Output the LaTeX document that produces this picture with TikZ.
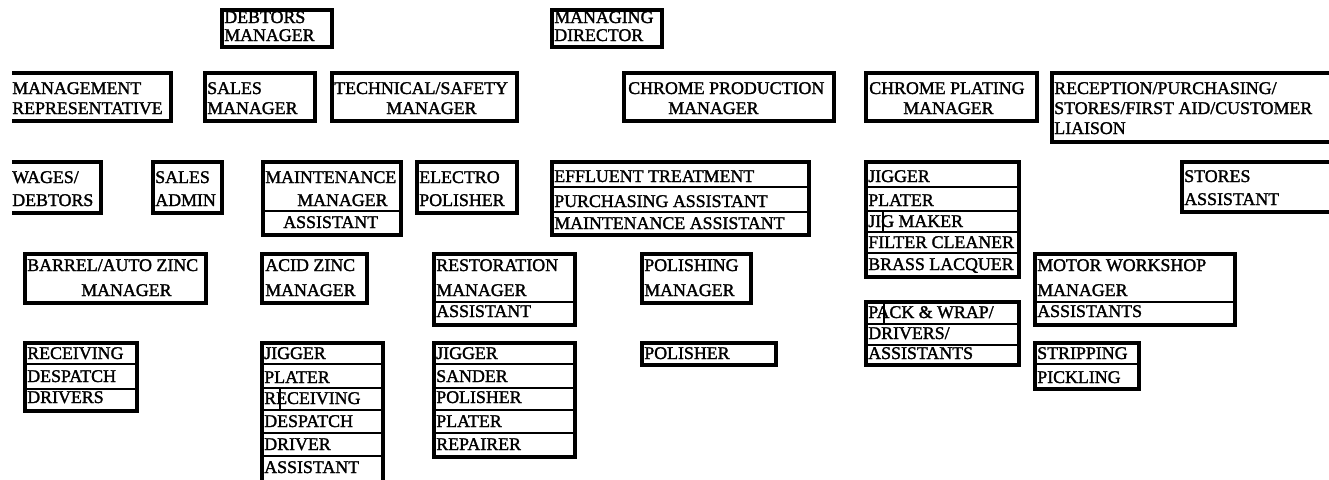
\documentclass[tikz,border=0pt]{standalone}
\usepackage{fontspec}
\setmainfont{Liberation Serif}[RawFeature={embolden=1.6}]
\begin{document}
\begin{tikzpicture}[x=0.75pt,y=-0.75pt,
  frame/.style={line width=2.3pt, line join=miter},
  rule/.style={line width=2.1pt},
  lbl/.style={anchor=base west, inner sep=0pt, font=\fontsize{13.4}{15}\selectfont, text=black}]
\useasboundingbox (0,0) rectangle (1329,479);
\clip (0,0) rectangle (1329,479);

% ---- top level ----
\draw[frame] (222,10) rectangle (332,47);
\node[lbl] (debtA) at (224,23) {DEBTORS};
\node[lbl] (debtB) at (224,41) {MANAGER};

\draw[frame] (552,10) rectangle (662,47);
\node[lbl] (mdA) at (554,23) {MANAGING};
\node[lbl] (mdB) at (554,41) {DIRECTOR};

% ---- managers ----
\draw[frame] (12,73) -- (171,73) -- (171,121) -- (12,121);
\node[lbl] (mrA) at (12,94) {MANAGEMENT};
\node[lbl] (mrB) at (12,114) {REPRESENTATIVE};

\draw[frame] (205,73) rectangle (315,121);
\node[lbl] (smA) at (207,94) {SALES};
\node[lbl] (smB) at (207,114) {MANAGER};

\draw[frame] (332,73) rectangle (517,121);
\node[lbl] (tsA) at (334,94) {TECHNICAL/SAFETY};
\node[lbl] (tsB) at (386,114) {MANAGER};

\draw[frame] (624,73) rectangle (834,121);
\node[lbl] (cpA) at (628,94) {CHROME PRODUCTION};
\node[lbl] (cpB) at (668,114) {MANAGER};

\draw[frame] (866,73) rectangle (1037,121);
\node[lbl] (clA) at (869,94) {CHROME PLATING};
\node[lbl] (clB) at (903,114) {MANAGER};

\draw[frame] (1340,73) -- (1052,73) -- (1052,142) -- (1340,142);
\node[lbl] (rcA) at (1054,94) {RECEPTION/PURCHASING/};
\node[lbl] (rcB) at (1054,114) {STORES/FIRST AID/CUSTOMER};
\node[lbl] (rcC) at (1054,134) {LIAISON};

% ---- third row ----
\draw[frame] (12,162) -- (101,162) -- (101,213) -- (12,213);
\node[lbl] (wdA) at (12,183) {WAGES/};
\node[lbl] (wdB) at (12,206) {DEBTORS};

\draw[frame] (153,162) rectangle (222,213);
\node[lbl] (saA) at (155,183) {SALES};
\node[lbl] (saB) at (155,206) {ADMIN};

\draw[frame] (263,162) rectangle (401,235);
\draw[rule] (263,211) -- (401,211);
\node[lbl] (mmA) at (265,183) {MAINTENANCE};
\node[lbl] (mmB) at (297,206) {MANAGER};
\node[lbl] (mmC) at (283,228) {ASSISTANT};

\draw[frame] (417,162) rectangle (517,213);
\node[lbl] (epA) at (419,183) {ELECTRO};
\node[lbl] (epB) at (419,206) {POLISHER};

\draw[frame] (552,162) rectangle (809,235);
\draw[rule] (552,187) -- (809,187);
\draw[rule] (552,212) -- (809,212);
\node[lbl] (efA) at (554,182) {EFFLUENT TREATMENT};
\node[lbl] (efB) at (554,207) {PURCHASING ASSISTANT};
\node[lbl] (efC) at (554,229) {MAINTENANCE ASSISTANT};

\draw[frame] (866,162) rectangle (1019,277);
\draw[rule] (866,187) -- (1019,187);
\draw[rule] (866,211) -- (1019,211);
\draw[rule] (866,232) -- (1019,232);
\draw[rule] (866,253) -- (1019,253);
\draw[rule] (883,211) -- (883,232);
\node[lbl] (jpA) at (868,182) {JIGGER};
\node[lbl] (jpB) at (868,206) {PLATER};
\node[lbl] (jpC) at (868,227) {JIG MAKER};
\node[lbl] (jpD) at (868,248) {FILTER CLEANER};
\node[lbl] (jpE) at (868,270) {BRASS LACQUER};

\draw[frame] (1340,162) -- (1182,162) -- (1182,212) -- (1340,212);
\node[lbl] (stA) at (1184,182) {STORES};
\node[lbl] (stB) at (1184,205) {ASSISTANT};

% ---- fourth row ----
\draw[frame] (25,254) rectangle (206,303);
\node[lbl] (bzA) at (27,271) {BARREL/AUTO ZINC};
\node[lbl] (bzB) at (81,296) {MANAGER};

\draw[frame] (262,254) rectangle (367,303);
\node[lbl] (azA) at (265,271) {ACID ZINC};
\node[lbl] (azB) at (265,296) {MANAGER};

\draw[frame] (434,254) rectangle (575,325);
\draw[rule] (434,302) -- (575,302);
\node[lbl] (rsA) at (436,271) {RESTORATION};
\node[lbl] (rsB) at (436,296) {MANAGER};
\node[lbl] (rsC) at (436,317) {ASSISTANT};

\draw[frame] (642,254) rectangle (751,303);
\node[lbl] (pmA) at (644,271) {POLISHING};
\node[lbl] (pmB) at (644,296) {MANAGER};

\draw[frame] (1035,254) rectangle (1235,325);
\draw[rule] (1035,302) -- (1235,302);
\node[lbl] (mwA) at (1037,271) {MOTOR WORKSHOP};
\node[lbl] (mwB) at (1037,296) {MANAGER};
\node[lbl] (mwC) at (1037,317) {ASSISTANTS};

\draw[frame] (866,302) rectangle (1019,365);
\draw[rule] (866,324) -- (1019,324);
\draw[rule] (866,345) -- (1019,345);
\draw[rule] (884,302) -- (884,324);
\node[lbl] (pwA) at (868,318) {PACK \& WRAP/};
\node[lbl] (pwB) at (868,339) {DRIVERS/};
\node[lbl] (pwC) at (868,359) {ASSISTANTS};

% ---- fifth row ----
\draw[frame] (25,343) rectangle (137,411);
\draw[rule] (25,364) -- (137,364);
\draw[rule] (25,389) -- (137,389);
\node[lbl] (rdA) at (27,359) {RECEIVING};
\node[lbl] (rdB) at (27,382) {DESPATCH};
\node[lbl] (rdC) at (27,403) {DRIVERS};

\draw[frame] (262,343) rectangle (383,490);
\draw[rule] (262,364) -- (383,364);
\draw[rule] (262,388) -- (383,388);
\draw[rule] (262,410) -- (383,410);
\draw[rule] (262,433) -- (383,433);
\draw[rule] (262,456) -- (383,456);
\draw[rule] (280,388) -- (280,410);
\node[lbl] (azsA) at (264,359) {JIGGER};
\node[lbl] (azsB) at (264,383) {PLATER};
\node[lbl] (azsC) at (264,404) {RECEIVING};
\node[lbl] (azsD) at (264,427) {DESPATCH};
\node[lbl] (azsE) at (264,450) {DRIVER};
\node[lbl] (azsF) at (264,473) {ASSISTANT};

\draw[frame] (434,343) rectangle (575,457);
\draw[rule] (434,364) -- (575,364);
\draw[rule] (434,388) -- (575,388);
\draw[rule] (434,410) -- (575,410);
\draw[rule] (434,433) -- (575,433);
\node[lbl] (rssA) at (436,359) {JIGGER};
\node[lbl] (rssB) at (436,382) {SANDER};
\node[lbl] (rssC) at (436,403) {POLISHER};
\node[lbl] (rssD) at (436,427) {PLATER};
\node[lbl] (rssE) at (436,450) {REPAIRER};

\draw[frame] (642,343) rectangle (776,365);
\node[lbl] (plA) at (644,359) {POLISHER};

\draw[frame] (1035,343) rectangle (1139,389);
\draw[rule] (1035,364) -- (1139,364);
\node[lbl] (spA) at (1037,359) {STRIPPING};
\node[lbl] (spB) at (1037,383) {PICKLING};
\end{tikzpicture}
\end{document}
